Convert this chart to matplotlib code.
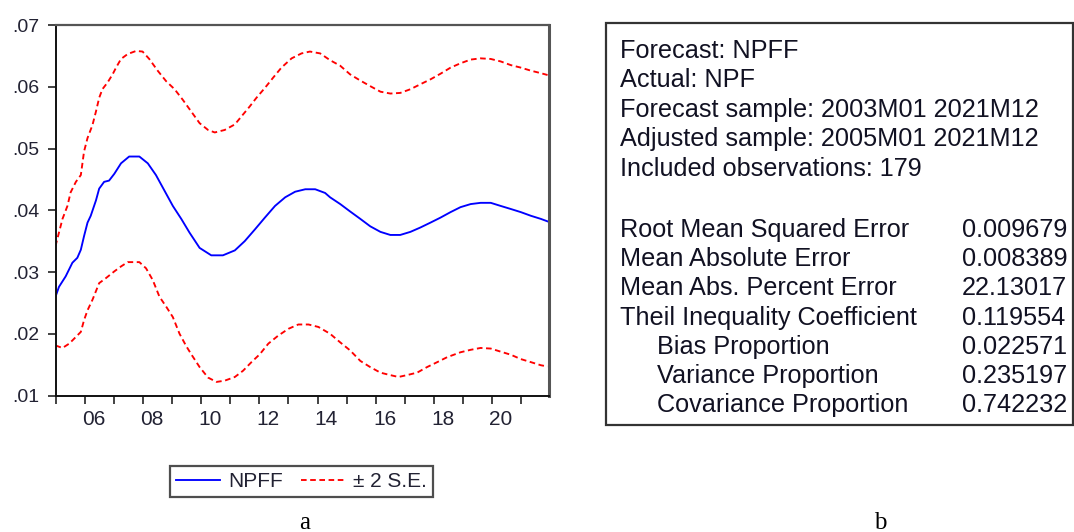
import matplotlib
matplotlib.use("Agg")
import matplotlib.pyplot as plt
from matplotlib.patches import Rectangle
from matplotlib.lines import Line2D
from matplotlib.transforms import ScaledTranslation

plt.rcParams['font.family'] = ['Liberation Sans', 'DejaVu Sans']

# ---------------- data ----------------
npff_x = [2005.00, 2005.12, 2005.35, 2005.58, 2005.75, 2005.87, 2005.98, 2006.10, 2006.21,
          2006.39, 2006.50, 2006.67, 2006.84, 2007.02, 2007.25, 2007.53, 2007.88, 2008.17,
          2008.45, 2008.74, 2009.03, 2009.32, 2009.60, 2009.95, 2010.35, 2010.75, 2011.16,
          2011.50, 2011.85, 2012.19, 2012.54, 2012.89, 2013.23, 2013.58, 2013.92, 2014.26,
          2014.43, 2014.78, 2015.12, 2015.47, 2015.81, 2016.16, 2016.50, 2016.84, 2017.19,
          2017.53, 2017.88, 2018.22, 2018.57, 2018.91, 2019.26, 2019.60, 2019.95, 2020.29,
          2020.64, 2020.98, 2021.33, 2021.67, 2021.90]
npff_y = [.0260, .0276, .0293, .0315, .0323, .0336, .0358, .0380, .0391,
          .0416, .0435, .0446, .0448, .0459, .0476, .0487, .0487, .0476,
          .0457, .0432, .0407, .0386, .0364, .0339, .0327, .0327, .0335,
          .0350, .0369, .0388, .0407, .0421, .0430, .0434, .0434, .0428,
          .0421, .0410, .0398, .0386, .0374, .0365, .0360, .0360, .0365,
          .0372, .0380, .0388, .0397, .0405, .0410, .0412, .0412, .0407,
          .0402, .0397, .0391, .0386, .0382]

upper_x = [2005.00, 2005.12, 2005.24, 2005.41, 2005.52, 2005.70, 2005.87, 2005.98, 2006.10,
           2006.27, 2006.39, 2006.50, 2006.61, 2006.79, 2006.96, 2007.08, 2007.25, 2007.48,
           2007.77, 2007.99, 2008.22, 2008.51, 2008.80, 2009.09, 2009.37, 2009.66, 2009.95,
           2010.24, 2010.47, 2010.81, 2011.16, 2011.44, 2011.67, 2011.90, 2012.19, 2012.48,
           2012.76, 2013.11, 2013.45, 2013.74, 2014.09, 2014.43, 2014.78, 2015.12, 2015.47,
           2015.81, 2016.16, 2016.50, 2016.84, 2017.19, 2017.53, 2017.88, 2018.22, 2018.57,
           2018.91, 2019.26, 2019.60, 2019.95, 2020.29, 2020.64, 2020.98, 2021.33, 2021.67,
           2021.90]
upper_y = [.0342, .0364, .0386, .0407, .0429, .0446, .0457, .0495, .0517,
           .0538, .0560, .0582, .0596, .0607, .0620, .0631, .0645, .0653,
           .0658, .0657, .0645, .0626, .0609, .0596, .0579, .0560, .0541,
           .0530, .0526, .0530, .0539, .0555, .0568, .0582, .0598, .0615,
           .0631, .0646, .0654, .0657, .0654, .0643, .0634, .0620, .0610,
           .0601, .0592, .0589, .0590, .0596, .0604, .0612, .0621, .0631,
           .0638, .0644, .0646, .0645, .0641, .0635, .0631, .0626, .0622,
           .0619]

lower_x = [2005.00, 2005.24, 2005.47, 2005.64, 2005.87, 2005.98, 2006.10, 2006.27, 2006.50,
           2006.73, 2007.02, 2007.25, 2007.48, 2007.88, 2008.11, 2008.34, 2008.57, 2008.80,
           2009.03, 2009.26, 2009.49, 2009.66, 2009.95, 2010.24, 2010.53, 2010.81, 2011.16,
           2011.44, 2011.73, 2012.02, 2012.31, 2012.65, 2013.00, 2013.34, 2013.69, 2014.03,
           2014.43, 2014.78, 2015.12, 2015.47, 2015.81, 2016.16, 2016.50, 2016.78, 2017.07,
           2017.42, 2017.76, 2018.11, 2018.45, 2018.91, 2019.26, 2019.60, 2019.95, 2020.29,
           2020.64, 2020.98, 2021.33, 2021.67, 2021.90]
lower_y = [.0181, .0177, .0184, .0192, .0203, .0222, .0238, .0255, .0282,
           .0290, .0301, .0309, .0316, .0316, .0306, .0287, .0260, .0244,
           .0227, .0200, .0180, .0167, .0146, .0129, .0122, .0124, .0130,
           .0140, .0154, .0167, .0184, .0197, .0208, .0215, .0215, .0211,
           .0200, .0186, .0173, .0156, .0146, .0137, .0133, .0130, .0133,
           .0137, .0146, .0154, .0162, .0170, .0174, .0177, .0176, .0171,
           .0166, .0159, .0154, .0149, .0147]

year_ticks = list(range(2005, 2022))
year_labels = ["" if y % 2 else "%02d" % (y % 100) for y in year_ticks]
y_ticks = [0.01, 0.02, 0.03, 0.04, 0.05, 0.06, 0.07]
y_labels = [".01", ".02", ".03", ".04", ".05", ".06", ".07"]

stats_header = ["Forecast: NPFF", "Actual: NPF", "Forecast sample: 2003M01 2021M12",
                "Adjusted sample: 2005M01 2021M12", "Included observations: 179"]
stat_names = ["Root Mean Squared Error", "Mean Absolute Error", "Mean Abs. Percent Error",
              "Theil Inequality Coefficient", "   Bias Proportion", "   Variance Proportion",
              "   Covariance Proportion"]
stat_values = ["0.009679", "0.008389", "22.13017", "0.119554", "0.022571", "0.235197",
               "0.742232"]

# ---------------- figure ----------------
W, H = 1074, 532
fig = plt.figure(figsize=(W / 100, H / 100), dpi=100)
fig.patch.set_facecolor('white')

def fx(px):
    return px / W

def fy(py):
    return 1 - py / H

DASH = (0, (3.0, 1.9))
LW = 1.35

ax = fig.add_axes([fx(55.5), fy(395.5), fx(549) - fx(55.5), fy(25) - fy(395.5)])
ax.plot(npff_x, npff_y, color='#0000FF', lw=LW, solid_joinstyle='round')
ax.plot(upper_x, upper_y, color='#FF0000', lw=LW, linestyle=DASH)
ax.plot(lower_x, lower_y, color='#FF0000', lw=LW, linestyle=DASH)

ax.set_xlim(2005.0, 2021.95)
ax.set_ylim(0.01, 0.07)
ax.set_xticks(year_ticks)
ax.set_xticklabels(year_labels)
ax.set_yticks(y_ticks)
ax.set_yticklabels(y_labels)
ax.tick_params(axis='both', direction='out', length=6, width=1.2, color='#222222',
               labelcolor='#222233')
ax.tick_params(axis='x', pad=4.5, labelsize=15)
ax.tick_params(axis='y', pad=5.5, labelsize=14)
shift = ScaledTranslation(-2 / 72, 0, fig.dpi_scale_trans)
for lab in ax.get_xticklabels():
    lab.set_horizontalalignment('left')
    lab.set_transform(lab.get_transform() + shift)

for side in ['left', 'bottom']:
    ax.spines[side].set_color('#111111')
    ax.spines[side].set_linewidth(1.4)
ax.spines['top'].set_color('#555555')
ax.spines['top'].set_linewidth(1.6)
ax.spines['right'].set_color('#555555')
ax.spines['right'].set_linewidth(2.2)

handles = [Line2D([], [], color='#0000FF', lw=LW),
           Line2D([], [], color='#FF0000', lw=LW, linestyle=DASH)]
leg = fig.legend(handles, ['NPFF', '± 2 S.E.'], loc='center',
                 bbox_to_anchor=(fx(301.5), fy(481.5)), ncol=2, fontsize=15,
                 frameon=True, fancybox=False, shadow=False, handlelength=2.1,
                 handletextpad=0.4, columnspacing=0.85, borderpad=0.3,
                 borderaxespad=0)
leg.get_frame().set_edgecolor('#222222')
leg.get_frame().set_linewidth(1.6)
for t in leg.get_texts():
    t.set_color('#222233')

# ---------------- right panel (statistics box) ----------------
box = Rectangle((fx(606), fy(425)), fx(1073) - fx(606), fy(23) - fy(425),
                transform=fig.transFigure, fill=False, edgecolor='#333333', lw=1.6)
fig.add_artist(box)

fs = 18.2
header_base = [58, 87, 117, 146, 176]
for txt, b in zip(stats_header, header_base):
    fig.text(fx(620), fy(b), txt, fontsize=fs, va='baseline', ha='left', color='#111122')

stat_base = [237, 266, 295, 325, 354, 383, 412]
for name, val, b in zip(stat_names, stat_values, stat_base):
    xx = 620
    if name.startswith("   "):
        name = name.strip()
        xx = 657
    fig.text(fx(xx), fy(b), name, fontsize=fs, va='baseline', ha='left', color='#111122')
    fig.text(fx(962), fy(b), val, fontsize=fs, va='baseline', ha='left', color='#111122')

# panel letters
fig.text(fx(305), fy(529), 'a', fontsize=18, family=['Liberation Serif'],
         ha='center', va='baseline', color='black')
fig.text(fx(880), fy(529), 'b', fontsize=18, family=['Liberation Serif'],
         ha='center', va='baseline', color='black')

fig.savefig('out.png', dpi=100)
